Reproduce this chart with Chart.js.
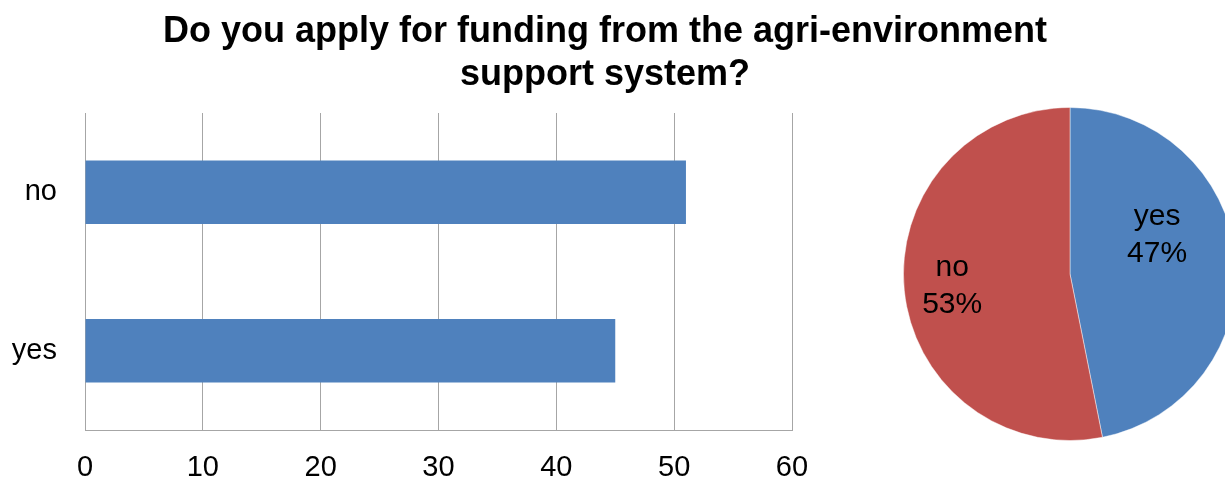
<!DOCTYPE html>
<html>
<head>
<meta charset="utf-8">
<script src="https://cdn.jsdelivr.net/npm/chart.js@4.4.1/dist/chart.umd.min.js"></script>
<style>
  html, body { margin: 0; padding: 0; background: #fff; }
  body { width: 1225px; height: 479px; overflow: hidden; position: relative; }
  #barWrap { position: absolute; left: 0; top: 0; width: 1225px; height: 479px; }
  #pieWrap { position: absolute; left: 903px; top: 107px; width: 334px; height: 334px; }
</style>
</head>
<body>
<div id="barWrap"><canvas id="barChart" width="1225" height="479"></canvas></div>
<div id="pieWrap"><canvas id="pieChart" width="334" height="334"></canvas></div>
<script>
// answers and counts (pie order: yes first, clockwise from top)
const answers = ['yes', 'no'];
const counts = [45, 51];
const xTicks = [0, 10, 20, 30, 40, 50, 60];
const titleLines = ['Do you apply for funding from the agri-environment', 'support system?'];

const blue = '#4f81bd';
const red = '#c0504d';
const gridGray = '#a6a6a6';
const fontFamily = '"Liberation Sans", Arial, sans-serif';

Chart.defaults.font.family = fontFamily;
Chart.defaults.color = '#000';

// bar chart lists categories bottom-up, so reverse for top-down drawing
const barLabels = answers.slice().reverse();
const barValues = counts.slice().reverse();

// title spans the whole picture, not just the bar plot
const pageTitle = {
  id: 'pageTitle',
  afterDraw(chart, args, opts) {
    const ctx = chart.ctx;
    ctx.save();
    ctx.font = 'bold ' + opts.size + 'px ' + fontFamily;
    ctx.fillStyle = '#000';
    ctx.textAlign = 'center';
    ctx.textBaseline = 'alphabetic';
    opts.lines.forEach((line, i) => {
      ctx.fillText(line, opts.x, opts.baseline + i * opts.lineGap);
    });
    ctx.restore();
  }
};

new Chart(document.getElementById('barChart').getContext('2d'), {
  type: 'bar',
  data: {
    labels: barLabels,
    datasets: [{
      data: barValues,
      backgroundColor: blue,
      borderWidth: 0,
      barPercentage: 0.4,
      categoryPercentage: 1
    }]
  },
  options: {
    indexAxis: 'y',
    responsive: false,
    animation: false,
    devicePixelRatio: 1,
    layout: { padding: { left: 0, right: 433, top: 113, bottom: 0 } },
    plugins: {
      legend: { display: false },
      tooltip: { enabled: false },
      title: { display: false },
      pageTitle: { lines: titleLines, size: 36, x: 605, baseline: 42, lineGap: 43 }
    },
    scales: {
      x: {
        min: 0,
        max: 60,
        afterBuildTicks: axis => { axis.ticks = xTicks.map(v => ({ value: v })); },
        afterFit: scale => { scale.height = 49; },
        ticks: { font: { size: 29 }, padding: 21, color: '#000' },
        grid: { color: gridGray, lineWidth: 1, drawTicks: false },
        border: { color: gridGray, width: 1 }
      },
      y: {
        afterFit: scale => { scale.width = 85; },
        ticks: { font: { size: 29 }, padding: 28, color: '#000' },
        grid: { display: false, drawTicks: false },
        border: { color: gridGray, width: 1 }
      }
    }
  },
  plugins: [pageTitle]
});

// labels inside pie slices, placed by angle shift and radius fraction
const pieLabelPlugin = {
  id: 'pieLabels',
  afterDatasetsDraw(chart, args, opts) {
    const ctx = chart.ctx;
    const meta = chart.getDatasetMeta(0);
    const data = chart.data.datasets[0].data;
    const total = data.reduce((a, b) => a + b, 0);
    ctx.save();
    ctx.font = opts.size + 'px ' + fontFamily;
    ctx.fillStyle = '#000';
    ctx.textAlign = 'center';
    ctx.textBaseline = 'middle';
    meta.data.forEach((arc, i) => {
      const p = arc.getProps(['x', 'y', 'startAngle', 'endAngle', 'outerRadius'], true);
      const pos = opts.place[i];
      const ang = (p.startAngle + p.endAngle) / 2 + pos.shift * Math.PI / 180;
      const r = p.outerRadius * pos.r;
      const cx = p.x + Math.cos(ang) * r;
      const cy = p.y + Math.sin(ang) * r + opts.dy;
      const pct = Math.round(data[i] / total * 100) + '%';
      ctx.fillText(chart.data.labels[i], cx, cy - opts.gap / 2);
      ctx.fillText(pct, cx, cy + opts.gap / 2);
    });
    ctx.restore();
  }
};

new Chart(document.getElementById('pieChart').getContext('2d'), {
  type: 'pie',
  data: {
    labels: answers,
    datasets: [{
      data: counts,
      backgroundColor: [blue, red],
      borderColor: 'rgba(255,255,255,0.45)',
      borderWidth: 1
    }]
  },
  options: {
    responsive: false,
    animation: false,
    devicePixelRatio: 1,
    layout: { padding: 0 },
    plugins: {
      legend: { display: false },
      tooltip: { enabled: false },
      pieLabels: {
        size: 30,
        gap: 37,
        dy: 3,
        place: [{ shift: -20, r: 0.58 }, { shift: 1, r: 0.71 }]
      }
    }
  },
  plugins: [pieLabelPlugin]
});
</script>
</body>
</html>
